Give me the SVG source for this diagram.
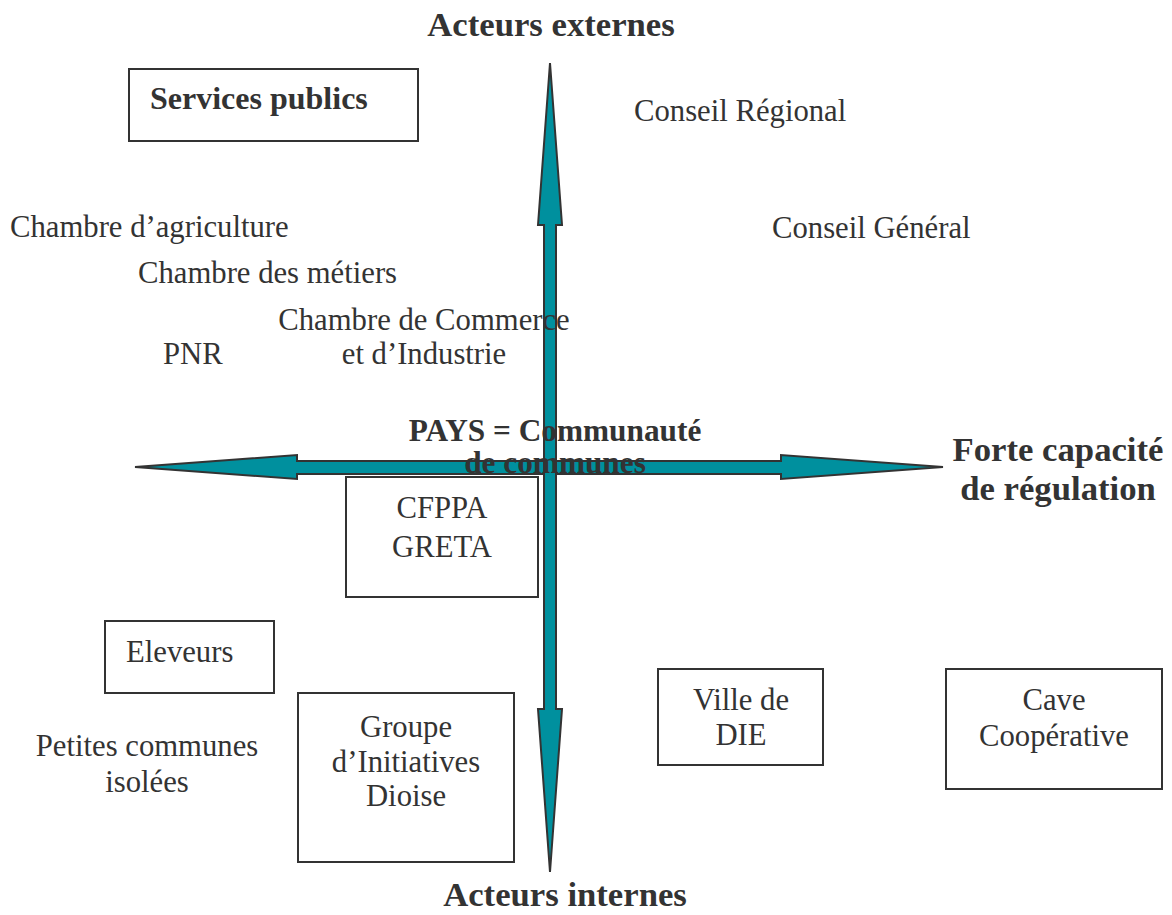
<svg xmlns="http://www.w3.org/2000/svg" width="1172" height="915" viewBox="0 0 1172 915">
<style>
.t{font-family:"Liberation Serif","Times New Roman",serif;font-size:30.7px;fill:#333}
.b{font-family:"Liberation Serif","Times New Roman",serif;font-weight:bold;fill:#333}
.box{fill:#fff;stroke:#333;stroke-width:2}
.arr{fill:#00909e;stroke:#333;stroke-width:2;stroke-linejoin:miter}
</style>
<rect width="1172" height="915" fill="#fff"/>
<g id="connectors">
<polygon class="arr" points="135,467 297,455 297,461 781,461 781,455 943,467 781,479 781,474 297,474 297,479"/>
<polygon class="arr" points="550,63 562,225 556,225 556,709 562,709 550,872 538,709 544,709 544,225 538,225"/>
</g>
<g id="acteurs-externes"><text class="b" x="551" y="36" font-size="34.7" text-anchor="middle">Acteurs externes</text></g>
<g id="acteurs-internes"><text class="b" x="565" y="906" font-size="34.7" text-anchor="middle">Acteurs internes</text></g>
<g id="forte-capacite"><text class="b" font-size="34.7" text-anchor="middle"><tspan x="1058" y="461">Forte capacité</tspan><tspan x="1058" y="500">de régulation</tspan></text></g>
<g id="services-publics"><rect class="box" x="129" y="69" width="289" height="72"/><text class="b" x="150" y="109" font-size="32">Services publics</text></g>
<g id="conseil-regional"><text class="t" x="634" y="121">Conseil Régional</text></g>
<g id="conseil-general"><text class="t" x="772" y="238">Conseil Général</text></g>
<g id="chambre-agriculture"><text class="t" x="10" y="237">Chambre d’agriculture</text></g>
<g id="chambre-metiers"><text class="t" x="138" y="283">Chambre des métiers</text></g>
<g id="pnr"><text class="t" x="163" y="364">PNR</text></g>
<g id="cci"><text class="t" text-anchor="middle"><tspan x="424" y="330">Chambre de Commerce</tspan><tspan x="424" y="364">et d’Industrie</tspan></text></g>
<g id="pays"><text class="b" font-size="31.3" text-anchor="middle"><tspan x="555" y="441">PAYS = Communauté</tspan><tspan x="555" y="473">de communes</tspan></text></g>
<g id="cfppa"><rect class="box" x="346" y="477" width="192" height="120"/><text class="t" text-anchor="middle"><tspan x="442" y="518">CFPPA</tspan><tspan x="442" y="557">GRETA</tspan></text></g>
<g id="eleveurs"><rect class="box" x="105" y="621" width="169" height="72"/><text class="t" x="126" y="662">Eleveurs</text></g>
<g id="petites-communes"><text class="t" text-anchor="middle"><tspan x="147" y="756">Petites communes</tspan><tspan x="147" y="792">isolées</tspan></text></g>
<g id="groupe"><rect class="box" x="298" y="693" width="216" height="169"/><text class="t" text-anchor="middle"><tspan x="406" y="737">Groupe</tspan><tspan x="406" y="772">d’Initiatives</tspan><tspan x="406" y="806">Dioise</tspan></text></g>
<g id="ville-die"><rect class="box" x="658" y="669" width="165" height="96"/><text class="t" text-anchor="middle"><tspan x="741" y="710">Ville de</tspan><tspan x="741" y="745">DIE</tspan></text></g>
<g id="cave"><rect class="box" x="946" y="669" width="216" height="120"/><text class="t" text-anchor="middle"><tspan x="1054" y="710">Cave</tspan><tspan x="1054" y="746">Coopérative</tspan></text></g>
</svg>
